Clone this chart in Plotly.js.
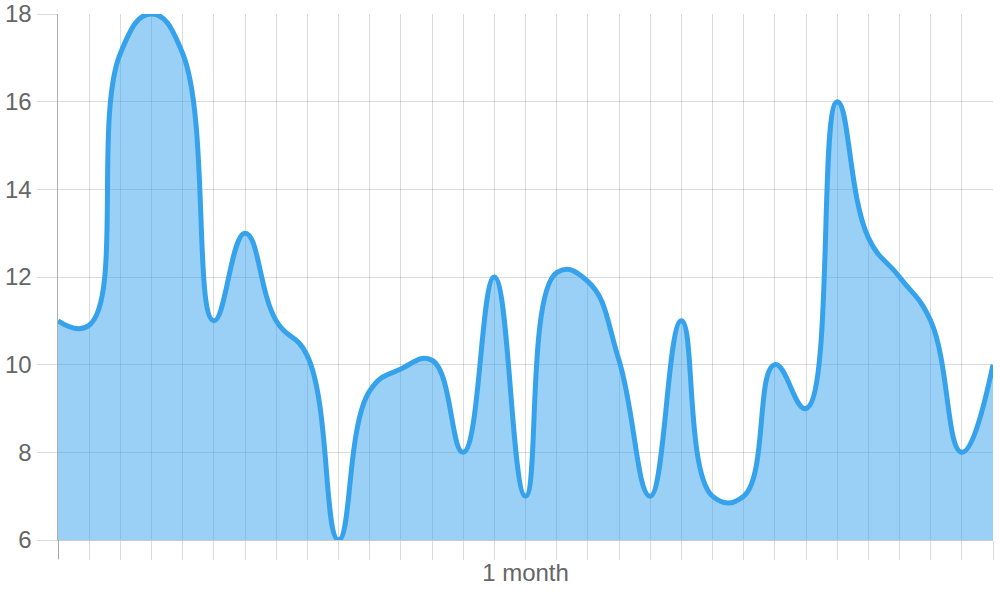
<!DOCTYPE html>
<html>
<head>
<meta charset="utf-8">
<script src="https://cdn.plot.ly/plotly-3.0.1.min.js"></script>
<style>html,body{margin:0;padding:0;background:#fff;}#chart{width:1000px;height:600px;}</style>
</head>
<body>
<div id="chart"></div>
<script>
// Days of the month (x categories, labels hidden in the reference)
const days = [1,2,3,4,5,6,7,8,9,10,11,12,13,14,15,16,17,18,19,20,21,22,23,24,25,26,27,28,29,30,31];
// Series values
const values = [11, 10.9, 17.1, 18, 17.1, 11, 13, 11, 10.2, 6, 9.4, 9.9, 10.1, 8, 12, 7, 12.1, 11.9, 10.1, 7, 11, 7, 7, 10, 9, 16, 12.9, 12, 11, 8, 10];
// Y tick values
const yTicks = [6, 8, 10, 12, 14, 16, 18];
const xTitle = '1 month';

const gridColor = 'rgba(0,0,0,0.14)';
const fontFam = '"Liberation Sans", Arial, Helvetica, sans-serif';

const trace = {
  x: days,
  y: values,
  type: 'scatter',
  mode: 'lines',
  line: {color: '#36A2EB', width: 5, shape: 'spline', smoothing: 1.3},
  fill: 'tozeroy',
  fillcolor: 'rgba(54,162,235,0.5)',
  hoverinfo: 'x+y'
};

const layout = {
  width: 1000,
  height: 600,
  margin: {l: 58, r: 7, t: 14, b: 60},
  paper_bgcolor: '#fff',
  plot_bgcolor: '#fff',
  showlegend: false,
  font: {family: fontFam, size: 24, color: '#666'},
  xaxis: {
    range: [days[0], days[days.length - 1]],
    tickvals: days,
    showticklabels: false,
    ticks: 'outside',
    ticklen: 19,
    tickwidth: 1,
    tickcolor: gridColor,
    showgrid: true,
    gridcolor: gridColor,
    gridwidth: 1,
    zeroline: false,
    showline: true,
    linecolor: 'rgba(0,0,0,0.2)',
    linewidth: 1,
    fixedrange: true,
    automargin: false,
    title: {text: xTitle, font: {family: fontFam, size: 24, color: '#666'}, standoff: 5}
  },
  yaxis: {
    range: [yTicks[0], yTicks[yTicks.length - 1]],
    tickvals: yTicks,
    ticktext: yTicks.map(String),
    ticks: 'outside',
    ticklen: 20,
    tickwidth: 1,
    tickcolor: gridColor,
    showgrid: true,
    gridcolor: gridColor,
    gridwidth: 1,
    zeroline: false,
    showline: true,
    linecolor: 'rgba(0,0,0,0.32)',
    linewidth: 1.5,
    tickfont: {family: fontFam, size: 24, color: '#666'},
    fixedrange: true,
    automargin: false
  },
  shapes: [{
    type: 'line', xref: 'x', yref: 'paper',
    x0: days[0], x1: days[0], y0: 0, y1: -19 / 526,
    line: {color: 'rgba(0,0,0,0.32)', width: 1.5}
  }]
};

Plotly.newPlot('chart', [trace], layout, {displayModeBar: false, staticPlot: true});
</script>
</body>
</html>
